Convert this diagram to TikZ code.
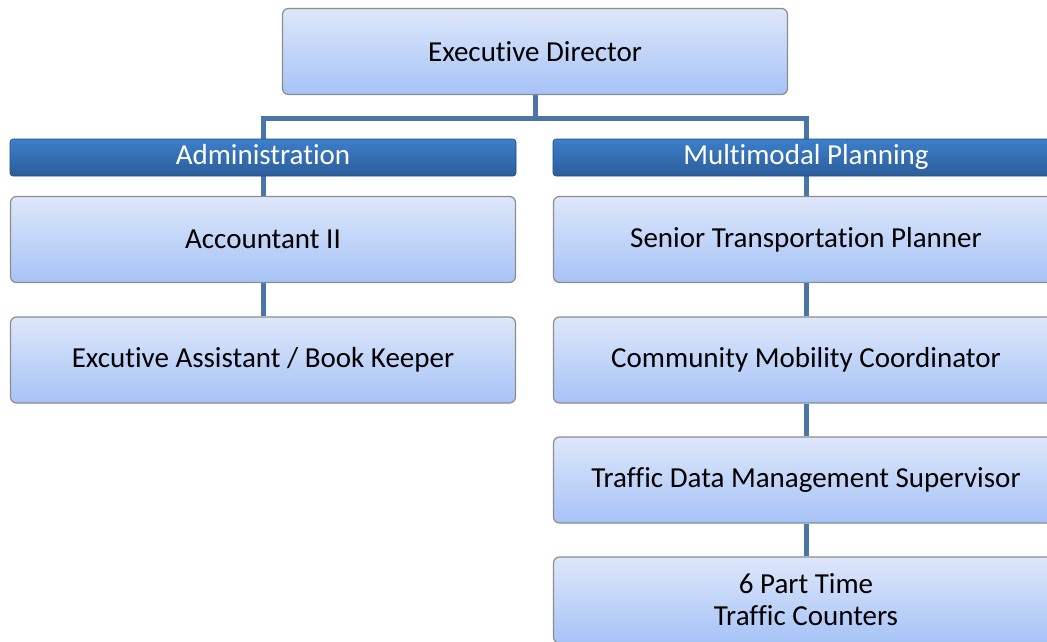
\documentclass[tikz,border=0pt]{standalone}
\usepackage{fontspec}
\setmainfont{Carlito}[Ligatures={NoCommon}]
\usetikzlibrary{backgrounds}
\definecolor{boxtop}{RGB}{222,231,250}
\definecolor{boxbot}{RGB}{166,195,247}
\definecolor{boxline}{RGB}{140,140,140}
\definecolor{bartop}{RGB}{60,127,202}
\definecolor{barbot}{RGB}{44,93,154}
\definecolor{linkcol}{RGB}{74,117,168}
\begin{document}
\begin{tikzpicture}[x=1pt,y=-1pt]
\tikzstyle{post}=[draw=boxline,line width=1.2pt,rounded corners=6pt,top color=boxtop,bottom color=boxbot,minimum width=505pt,minimum height=86pt,align=center,font=\fontsize{29}{32}\selectfont];
\tikzstyle{dept}=[draw=barbot!80!black,line width=0.6pt,rounded corners=3pt,top color=bartop,bottom color=barbot,minimum width=506pt,minimum height=37pt,text=white,inner sep=0pt,text height=19pt,text depth=6pt,font=\fontsize{29}{32}\selectfont];
\tikzstyle{link}=[draw=linkcol,line width=5pt];
\clip (0,0) rectangle (1047,641);
\useasboundingbox (0,0) rectangle (1047,641);

\node [post] (ed) at (535,51.5) {Executive Director};

\node [dept] (adm) at (263,157.5) {Administration};
\node [post] (acct) at (263,239.5) {Accountant II};
\node [post] (ea) at (263,360) {Excutive Assistant / Book Keeper};

\node [dept] (mmp) at (806,157.5) {Multimodal Planning};
\node [post] (stp) at (806,239.5) {Senior Transportation Planner};
\node [post] (cmc) at (806,360) {Community Mobility Coordinator};
\node [post] (tdms) at (806,480) {Traffic Data Management Supervisor};
\node [post] (ptc) at (806,600) {6 Part Time\\Traffic Counters};

\coordinate (bus) at (535,118);
\begin{scope}[on background layer]
\draw [link] (ed.south) -- (bus);
\draw [link] (bus) -| (acct.north);
\draw [link] (bus) -| (stp.north);
\draw [link] (acct) -- (ea);
\draw [link] (stp) -- (cmc);
\draw [link] (cmc) -- (tdms);
\draw [link] (tdms) -- (ptc);
\end{scope}
\end{tikzpicture}
\end{document}
